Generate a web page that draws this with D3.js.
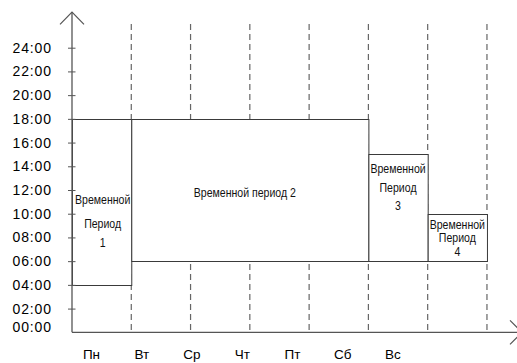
<!DOCTYPE html>
<html>
<head>
<meta charset="utf-8">
<script src="https://cdn.jsdelivr.net/npm/d3@7"></script>
<style>
  html, body { margin: 0; padding: 0; background: #fff; }
  svg { display: block; }
</style>
</head>
<body>
<svg id="chart" width="517" height="363"></svg>
<script>
// ---- data ----
const days = ["Пн", "Вт", "Ср", "Чт", "Пт", "Сб", "Вс"];
const hourTicks = [0, 2, 4, 6, 8, 10, 12, 14, 16, 18, 20, 22, 24];
const tickLabels = ["00:00", "02:00", "04:00", "06:00", "08:00", "10:00", "12:00",
                    "14:00", "16:00", "18:00", "20:00", "22:00", "24:00"];
const gridColumns = [1, 2, 3, 4, 5, 6, 7];
const periodLabels = [
  ["Временной", "Период", "1"],
  ["Временной период 2"],
  ["Временной", "Период", "3"],
  ["Временной", "Период", "4"]
];
const periodColStart = [0, 1, 5, 6];
const periodColEnd   = [1, 5, 6, 7];
const periodHourStart = [4, 6, 6, 6];
const periodHourEnd   = [18, 18, 15, 10];

// ---- layout ----
const svg = d3.select("#chart");
const x = d3.scaleLinear().domain([0, 7.5]).range([72, 516.6]);
const y = d3.scaleLinear().domain([0, 24]).range([332.3, 47.7]);
const dayX = d3.scalePoint().domain(days).range([91.5, 393]);
const axisColor = "#555";
const lineColor = "#3a3a3a";
const font = "'Liberation Sans', Arial, sans-serif";

// dashed column lines
svg.append("g").selectAll("line").data(gridColumns).join("line")
  .attr("x1", d => x(d)).attr("x2", d => x(d))
  .attr("y1", 24).attr("y2", y(0))
  .attr("stroke", "#666").attr("stroke-width", 1.2)
  .attr("stroke-dasharray", "6,4");

// period rectangles
const periods = periodLabels.map((lbl, i) => ({
  lbl, c0: periodColStart[i], c1: periodColEnd[i],
  h0: periodHourStart[i], h1: periodHourEnd[i], i
}));
svg.append("g").selectAll("rect").data(periods).join("rect")
  .attr("x", d => x(d.c0) + 0.5)
  .attr("y", d => Math.round(y(d.h1)) + 0.5)
  .attr("width", d => x(d.c1) - x(d.c0))
  .attr("height", d => Math.round(y(d.h0)) - Math.round(y(d.h1)))
  .attr("fill", "#fff")
  .attr("stroke", lineColor).attr("stroke-width", 1);

// period labels (baseline offsets from rectangle top, per block), condensed text
const labelOffsets = [[85, 109, 128.5], [78], [19, 37.5, 56], [15, 28.5, 42]];
const labelShift = [1, -5, 0, 0];
const lg = svg.append("g");
periods.forEach(p => {
  const cx = (x(p.c0) + x(p.c1)) / 2 + labelShift[p.i];
  const top = y(p.h1);
  p.lbl.forEach((t, k) => {
    lg.append("text")
      .attr("transform", `translate(${cx},${top + labelOffsets[p.i][k]}) scale(0.88,1)`)
      .attr("text-anchor", "middle")
      .attr("font-family", font).attr("font-size", 12)
      .attr("fill", "#111")
      .text(t);
  });
});

// y axis
const yAxis = d3.axisLeft(y).tickValues(hourTicks)
  .tickFormat((d, i) => tickLabels[i]).tickSize(0).tickPadding(20);
const ya = svg.append("g").attr("transform", `translate(${x(0)},0)`).call(yAxis);
ya.select(".domain").remove();
ya.selectAll(".tick text")
  .attr("font-family", font).attr("font-size", 14)
  .attr("letter-spacing", "0.9px").attr("fill", "#000")
  .attr("dy", d => d === 0 ? "-0.05em" : "0.32em");
ya.selectAll(".tick").filter(d => d !== 0).append("line")
  .attr("x1", -4).attr("x2", 3.5).attr("stroke", axisColor);

// axis lines with arrows
svg.append("line").attr("x1", x(0)).attr("x2", x(0))
  .attr("y1", 12).attr("y2", y(0)).attr("stroke", axisColor).attr("stroke-width", 1.3);
svg.append("polyline")
  .attr("points", `${x(0) - 12},24.3 ${x(0)},12 ${x(0) + 12},24.3`)
  .attr("fill", "none").attr("stroke", axisColor).attr("stroke-width", 1.2);
svg.append("line").attr("x1", x(0)).attr("x2", 517)
  .attr("y1", y(0)).attr("y2", y(0)).attr("stroke", axisColor).attr("stroke-width", 1.3);
svg.append("polyline")
  .attr("points", `510,${y(0) - 12} 522,${y(0)} 510,${y(0) + 12}`)
  .attr("fill", "none").attr("stroke", axisColor).attr("stroke-width", 1.2);

// day labels
svg.append("g").selectAll("text").data(days).join("text")
  .attr("x", d => dayX(d)).attr("y", 359)
  .attr("text-anchor", "middle")
  .attr("font-family", font).attr("font-size", 13.5)
  .attr("fill", "#000")
  .text(d => d);
</script>
</body>
</html>
